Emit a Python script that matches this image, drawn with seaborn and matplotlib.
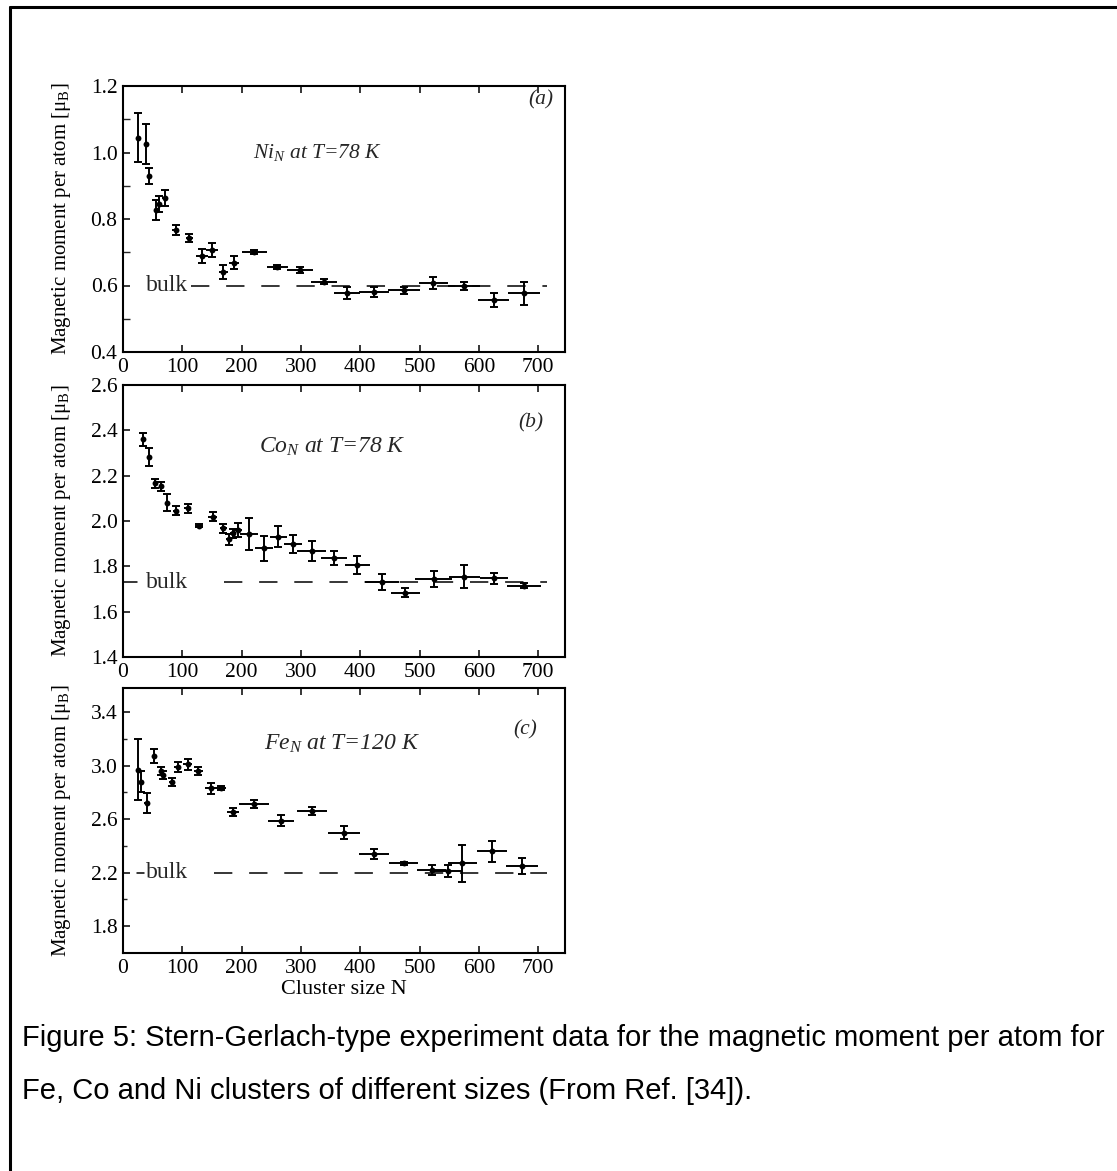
import numpy as np
import matplotlib
matplotlib.use("Agg")
import matplotlib.pyplot as plt
from matplotlib.lines import Line2D
from matplotlib.ticker import FixedLocator, FormatStrFormatter
import seaborn as sns

# ---------------- data ----------------
ni_N = [26, 39, 44, 56, 61, 71, 89, 112, 133, 150, 169, 187, 221, 260, 298, 339, 378, 423, 473, 523, 574, 625, 676]
ni_m = [1.045, 1.025, 0.93, 0.827, 0.845, 0.862, 0.767, 0.742, 0.689, 0.707, 0.641, 0.669, 0.700, 0.657,
        0.647, 0.612, 0.577, 0.580, 0.585, 0.607, 0.599, 0.556, 0.577]
ni_yerr = [0.075, 0.06, 0.024, 0.03, 0.025, 0.024, 0.015, 0.012, 0.022, 0.02, 0.02, 0.02, 0.006, 0.006,
           0.01, 0.008, 0.019, 0.015, 0.01, 0.018, 0.012, 0.022, 0.035]
ni_xerr = [0, 0, 0, 4, 4, 5, 6, 6, 10, 10, 8, 9, 21, 18, 22, 22, 22, 25, 27, 24, 27, 26, 27]

co_N = [34, 44, 54, 64, 74, 89, 109, 128, 151, 169, 179, 185, 193, 213, 238, 262, 286, 318, 355, 395,
        437, 476, 524, 575, 625, 676]
co_m = [2.360, 2.281, 2.166, 2.154, 2.081, 2.046, 2.056, 1.979, 2.019, 1.968, 1.919, 1.946, 1.960, 1.943,
        1.880, 1.931, 1.899, 1.866, 1.836, 1.806, 1.730, 1.684, 1.744, 1.754, 1.747, 1.715]
co_yerr = [0.03, 0.04, 0.02, 0.02, 0.036, 0.02, 0.02, 0.006, 0.02, 0.02, 0.024, 0.02, 0.03, 0.07, 0.055,
           0.045, 0.04, 0.044, 0.03, 0.04, 0.036, 0.02, 0.035, 0.05, 0.025, 0.012]
co_xerr = [0, 0, 4, 4, 3, 5, 6, 6, 8, 6, 5, 5, 8, 15, 15, 15, 15, 24, 22, 21, 29, 24, 31, 26, 24, 28]

fe_N = [26, 30, 40, 52, 64, 68, 82, 92, 109, 127, 148, 166, 186, 221, 266, 319, 373, 423, 473, 520,
        547, 572, 622, 673]
fe_m = [2.97, 2.88, 2.72, 3.07, 2.96, 2.93, 2.88, 2.99, 3.01, 2.96, 2.83, 2.83, 2.65, 2.71, 2.59, 2.66,
        2.50, 2.34, 2.27, 2.22, 2.21, 2.27, 2.36, 2.25]
fe_yerr = [0.23, 0.08, 0.077, 0.053, 0.03, 0.03, 0.03, 0.04, 0.04, 0.03, 0.04, 0.015, 0.03, 0.03, 0.04,
           0.03, 0.05, 0.04, 0.012, 0.04, 0.045, 0.14, 0.08, 0.06]
fe_xerr = [0, 0, 4, 0, 4, 4, 5, 6, 8, 8, 10, 8, 10, 25, 22, 25, 27, 26, 24, 25, 25, 25, 26, 27]

bulk_values = [0.6, 1.73, 2.2]
panel_titles = ["$Ni_N$ at T=78 K", "$Co_N$ at T=78 K", "$Fe_N$ at T=120 K"]
panel_tags = ["(a)", "(b)", "(c)"]
x_ticks = [0, 100, 200, 300, 400, 500, 600, 700]
ni_yticks = [0.4, 0.6, 0.8, 1.0, 1.2]
ni_yminor = [0.5, 0.7, 0.9, 1.1]
co_yticks = [1.4, 1.6, 1.8, 2.0, 2.2, 2.4, 2.6]
fe_yticks = [1.8, 2.2, 2.6, 3.0, 3.4]
fe_yminor = [2.0, 2.4, 2.8, 3.2]
ylabel = "Magnetic moment per atom [μ$_\\mathrm{B}$]"
xlabel = "Cluster size N"
caption1 = "Figure 5: Stern-Gerlach-type experiment data for the magnetic moment per atom for"
caption2 = "Fe, Co and Ni clusters of different sizes (From Ref. [34])."

# ---------------- style ----------------
sns.set_theme(style="ticks")
plt.rcParams['font.family'] = ['Liberation Serif', 'DejaVu Serif']
plt.rcParams['mathtext.fontset'] = 'custom'
plt.rcParams['mathtext.rm'] = 'Liberation Serif'
plt.rcParams['mathtext.it'] = 'Liberation Serif:italic'
plt.rcParams['mathtext.bf'] = 'Liberation Serif:bold'

W, H = 1117, 1171
fig = plt.figure(figsize=(W / 100, H / 100), dpi=100)
fig.patch.set_facecolor('white')


def ax_rect(left, right, top, bottom):
    return [left / W, 1 - bottom / H, (right - left) / W, (bottom - top) / H]


ax_a = fig.add_axes(ax_rect(123, 565, 86, 352))
ax_b = fig.add_axes(ax_rect(123, 565, 385, 657))
ax_c = fig.add_axes(ax_rect(123, 565, 688, 953))

panels = [
    dict(ax=ax_a, N=ni_N, m=ni_m, xe=ni_xerr, ye=ni_yerr, ylim=(0.4, 1.2), major=ni_yticks, minor=ni_yminor,
         minor_len=5, bulk=bulk_values[0], dash_start=114, pre=(0, 0),
         title_xy=(219, 1.0), title_fs=15.5, tag_xy=(683, 1.158)),
    dict(ax=ax_b, N=co_N, m=co_m, xe=co_xerr, ye=co_yerr, ylim=(1.4, 2.6), major=co_yticks, minor=None,
         minor_len=0, bulk=bulk_values[1], dash_start=170, pre=(0, 24),
         title_xy=(229, 2.327), title_fs=17, tag_xy=(667, 2.432)),
    dict(ax=ax_c, N=fe_N, m=fe_m, xe=fe_xerr, ye=fe_yerr, ylim=(1.6, 3.58), major=fe_yticks, minor=fe_yminor,
         minor_len=3, bulk=bulk_values[2], dash_start=153, pre=(23, 36),
         title_xy=(237, 3.166), title_fs=17, tag_xy=(657, 3.27)),
]

for i, p in enumerate(panels):
    ax = p['ax']
    ax.set_facecolor('white')
    # vertical error bars with caps
    ax.errorbar(p['N'], p['m'], yerr=p['ye'], fmt='none', ecolor='black',
                elinewidth=1.4, capsize=3, capthick=1.4, zorder=2)
    # horizontal error bars without caps
    ax.errorbar(p['N'], p['m'], xerr=p['xe'], fmt='none', ecolor='black',
                elinewidth=1.4, capsize=0, zorder=2)
    sns.scatterplot(x=p['N'], y=p['m'], ax=ax, color='black', s=18, linewidth=0, zorder=3)

    # bulk reference line
    ax.plot([p['dash_start'], 715], [p['bulk'], p['bulk']], color='black', lw=1.1,
            dashes=(12, 11), zorder=1)
    if p['pre'][1] > 0:
        ax.plot(list(p['pre']), [p['bulk'], p['bulk']], color='black', lw=1.1, zorder=1)
    ax.text(38, p['bulk'], "bulk", ha='left', va='center', fontsize=17)

    ax.text(p['title_xy'][0], p['title_xy'][1], panel_titles[i], ha='left', va='center',
            fontsize=p['title_fs'], fontstyle='italic')
    ax.text(p['tag_xy'][0], p['tag_xy'][1], panel_tags[i], ha='left', va='center',
            fontsize=15.5, fontstyle='italic')

    ax.set_xlim(0, 745)
    ax.set_ylim(*p['ylim'])
    ax.set_xticks(x_ticks)
    ax.set_xticklabels([str(t) for t in x_ticks])
    ax.yaxis.set_major_locator(FixedLocator(p['major']))
    ax.yaxis.set_major_formatter(FormatStrFormatter('%.1f'))
    if p['minor']:
        ax.yaxis.set_minor_locator(FixedLocator(p['minor']))
    ax.tick_params(axis='both', which='major', direction='in', length=5, width=1.1,
                   labelsize=15.5, colors='black', pad=4)
    ax.tick_params(axis='x', top=True, bottom=True)
    ax.tick_params(axis='y', which='minor', direction='in', length=p['minor_len'], width=1.0,
                   left=True, right=False)
    ax.tick_params(axis='x', which='minor', bottom=False, top=False)
    for s in ax.spines.values():
        s.set_color('black')
        s.set_linewidth(1.5)
    ax.set_xlabel("")
    ax.set_ylabel(ylabel, fontsize=15, color='black')
    ax.yaxis.set_label_coords(-0.112, 0.5)

ax_c.set_xlabel(xlabel, fontsize=16, color='black', labelpad=2)

# caption
fig.text(22 / W, 1 - 1038 / H, caption1, fontfamily='Liberation Sans', fontsize=21,
         va='center', ha='left', color='black')
fig.text(22 / W, 1 - 1091 / H, caption2, fontfamily='Liberation Sans', fontsize=21,
         va='center', ha='left', color='black')

# page frame (top and left edges)
fig.add_artist(Line2D([10 / W, 1.0], [1 - 7 / H, 1 - 7 / H], transform=fig.transFigure,
                      color='black', lw=2.2))
fig.add_artist(Line2D([10 / W, 10 / W], [0.0, 1 - 7 / H], transform=fig.transFigure,
                      color='black', lw=2.2))

fig.savefig("out.png", dpi=100, facecolor='white')
